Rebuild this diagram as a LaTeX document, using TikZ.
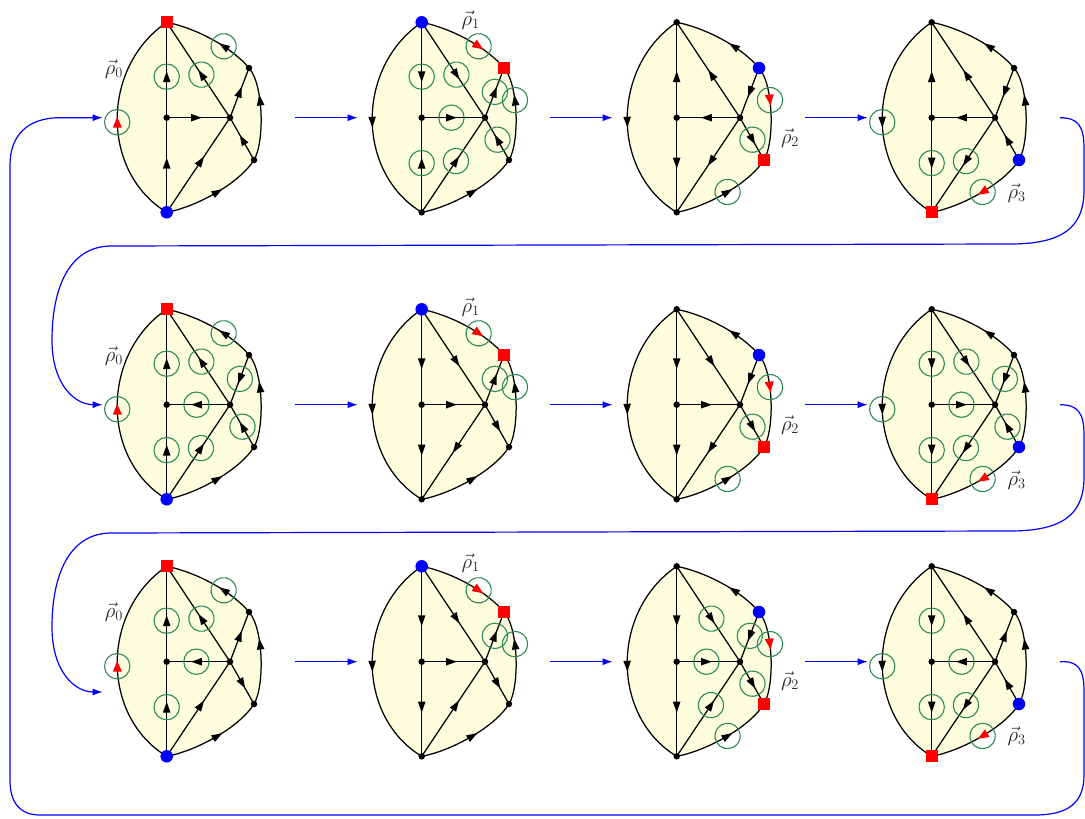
\documentclass[tikz,border=0pt]{standalone}
\usetikzlibrary{decorations.markings,arrows.meta}
\definecolor{fillY}{RGB}{253,253,222}
\definecolor{cgreen}{RGB}{46,139,87}
\definecolor{cblue}{RGB}{0,0,255}
\definecolor{cred}{RGB}{255,0,0}
\newcommand\tipF{\fill[black] (5.4pt,0pt) -- (-5.4pt,3.8pt) -- (-5.4pt,-3.8pt) -- cycle;}
\newcommand\tipB{\fill[black] (-5.4pt,0pt) -- (5.4pt,3.8pt) -- (5.4pt,-3.8pt) -- cycle;}
\newcommand\tipRF{\fill[cred] (5.4pt,0pt) -- (-5.4pt,4.5pt) -- (-5.4pt,-4.5pt) -- cycle;}
\newcommand\tipRB{\fill[cred] (-5.4pt,0pt) -- (5.4pt,4.5pt) -- (5.4pt,-4.5pt) -- cycle;}
\newcommand\ring{\draw[cgreen,line width=1.1pt] (0pt,0pt) circle (12.7pt);}
\newcommand\EA[6]{\tikzset{eL/.style={#1},eTC/.style={#2},eCB/.style={#3},eCM/.style={#4},eTM/.style={#5},eMB/.style={#6}}}
\newcommand\EB[5]{\tikzset{eMR/.style={#1},eMS/.style={#2},eTR/.style={#3},eRS/.style={#4},eSB/.style={#5}}}
\newcommand\panel[7]{%
\begin{scope}[shift={(#2,#3)}]
\coordinate (#1T) at (0,0);
\coordinate (#1C) at (0,95.4);
\coordinate (#1B) at (0,190);
\coordinate (#1M) at (63.3,95.4);
\coordinate (#1R) at (82.3,45.7);
\coordinate (#1S) at (87.3,137.7);
\coordinate (#1in) at (-64,95.4);
\coordinate (#1out) at (128.3,95.4);
\fill[fillY] (#1T) .. controls (30,6) and (65,25) .. (#1R) .. controls (97,62) and (98,120) .. (#1S) .. controls (72,162) and (28,185) .. (#1B) .. controls (-66,150) and (-66,45) .. (#1T) -- cycle;
\def\mpos{0.52}\draw[edge,eL] (#1T) .. controls (-66,45) and (-66,150) .. (#1B);
\def\mpos{0.57}\draw[edge,eTC] (#1T) -- (#1C);
\def\mpos{0.48}\draw[edge,eCB] (#1C) -- (#1B);
\def\mpos{0.47}\draw[edge,eCM] (#1C) -- (#1M);
\def\mpos{0.55}\draw[edge,eTM] (#1T) -- (#1M);
\def\mpos{0.46}\draw[edge,eMB] (#1M) -- (#1B);
\def\mpos{0.52}\draw[edge,eMR] (#1M) -- (#1R);
\def\mpos{0.52}\draw[edge,eMS] (#1M) -- (#1S);
\def\mpos{0.65}\draw[edge,eTR] (#1T) .. controls (30,6) and (65,25) .. (#1R);
\def\mpos{0.36}\draw[edge,eRS] (#1R) .. controls (97,62) and (98,120) .. (#1S);
\def\mpos{0.47}\draw[edge,eSB] (#1S) .. controls (72,162) and (28,185) .. (#1B);
\node[#4] (#1nT) at (#1T) {};
\node[vdot] (#1nC) at (#1C) {};
\node[vdot] (#1nM) at (#1M) {};
\node[#5] (#1nR) at (#1R) {};
\node[#6] (#1nS) at (#1S) {};
\node[#7] (#1nB) at (#1B) {};
\end{scope}}
\begin{document}
\begin{tikzpicture}[x=1pt,y=-1pt,
  edge/.style={line width=1.25pt,black},
  mF/.style={postaction={decorate,decoration={markings,mark=at position \mpos with {\tipF}}}},
  mB/.style={postaction={decorate,decoration={markings,mark=at position \mpos with {\tipB}}}},
  mFc/.style={postaction={decorate,decoration={markings,mark=at position \mpos with {\tipF\ring}}}},
  mBc/.style={postaction={decorate,decoration={markings,mark=at position \mpos with {\tipB\ring}}}},
  mRF/.style={postaction={decorate,decoration={markings,mark=at position \mpos with {\tipRF\ring}}}},
  mRB/.style={postaction={decorate,decoration={markings,mark=at position \mpos with {\tipRB\ring}}}},
  vdot/.style={circle,fill=black,inner sep=0pt,minimum size=6.5pt},
  vsq/.style={rectangle,fill=cred,inner sep=0pt,minimum size=12pt},
  vbl/.style={circle,fill=cblue,inner sep=0pt,minimum size=12.5pt},
  lbl/.style={text=black!85,font=\fontsize{20}{24}\selectfont,inner sep=0pt},
  flow/.style={draw=cblue,line width=1.2pt,-{Latex[length=10pt,width=7pt]}}]
\useasboundingbox (0,0) rectangle (1085,819);
% row 1
\EA{mRB}{mBc}{mB}{mF}{mBc}{mB}\EB{mF}{mB}{mBc}{mB}{mB}
\panel{a}{166.7}{22.3}{vsq}{vdot}{vdot}{vbl}
\EA{mF}{mFc}{mBc}{mFc}{mFc}{mBc}\EB{mFc}{mBc}{mRF}{mBc}{mB}
\panel{b}{421.7}{22.3}{vbl}{vsq}{vdot}{vdot}
\EA{mF}{mB}{mF}{mB}{mB}{mF}\EB{mB}{mFc}{mB}{mRF}{mBc}
\panel{c}{676.7}{22.3}{vdot}{vbl}{vsq}{vdot}
\EA{mFc}{mB}{mFc}{mB}{mB}{mFc}\EB{mB}{mB}{mB}{mB}{mRF}
\panel{d}{931.7}{22.3}{vdot}{vdot}{vbl}{vsq}
% row 2
\EA{mRB}{mBc}{mBc}{mBc}{mBc}{mBc}\EB{mBc}{mBc}{mBc}{mB}{mB}
\panel{e}{166.7}{309.3}{vsq}{vdot}{vdot}{vbl}
\EA{mF}{mF}{mF}{mF}{mF}{mF}\EB{mFc}{mF}{mRF}{mBc}{mB}
\panel{f}{421.7}{309.3}{vbl}{vsq}{vdot}{vdot}
\EA{mF}{mF}{mF}{mF}{mF}{mF}\EB{mB}{mFc}{mB}{mRF}{mBc}
\panel{g}{676.7}{309.3}{vdot}{vbl}{vsq}{vdot}
\EA{mFc}{mFc}{mFc}{mFc}{mFc}{mFc}\EB{mBc}{mBc}{mB}{mB}{mRF}
\panel{h}{931.7}{309.3}{vdot}{vdot}{vbl}{vsq}
% row 3
\EA{mRB}{mBc}{mBc}{mBc}{mBc}{mB}\EB{mF}{mF}{mBc}{mB}{mB}
\panel{i}{166.7}{566.3}{vsq}{vdot}{vdot}{vbl}
\EA{mF}{mF}{mF}{mF}{mF}{mB}\EB{mFc}{mF}{mRF}{mBc}{mB}
\panel{j}{421.7}{566.3}{vbl}{vsq}{vdot}{vdot}
\EA{mF}{mF}{mF}{mFc}{mFc}{mBc}\EB{mBc}{mFc}{mB}{mRF}{mBc}
\panel{k}{676.7}{566.3}{vdot}{vbl}{vsq}{vdot}
\EA{mFc}{mFc}{mFc}{mBc}{mB}{mFc}\EB{mF}{mB}{mB}{mB}{mRF}
\panel{l}{931.7}{566.3}{vdot}{vdot}{vbl}{vsq}
% labels
\node[lbl] (la) at (114,69) {$\vec{\rho}_0$};
\node[lbl] (le) at (114,356) {$\vec{\rho}_0$};
\node[lbl] (li) at (114,612) {$\vec{\rho}_0$};
\node[lbl] (lb) at (470.7,20) {$\vec{\rho}_1$};
\node[lbl] (lf) at (470.7,307) {$\vec{\rho}_1$};
\node[lbl] (lj) at (470.7,563) {$\vec{\rho}_1$};
\node[lbl] (lc) at (790,138) {$\vec{\rho}_2$};
\node[lbl] (lg) at (790,425) {$\vec{\rho}_2$};
\node[lbl] (lk) at (790,681) {$\vec{\rho}_2$};
\node[lbl] (ld) at (1016.7,192.7) {$\vec{\rho}_3$};
\node[lbl] (lh) at (1016.7,479.7) {$\vec{\rho}_3$};
\node[lbl] (ll) at (1016.7,735.7) {$\vec{\rho}_3$};
% flow arrows
\draw[flow] (aout) -- (bin);
\draw[flow] (bout) -- (cin);
\draw[flow] (cout) -- (din);
\draw[flow] (eout) -- (fin);
\draw[flow] (fout) -- (gin);
\draw[flow] (gout) -- (hin);
\draw[flow] (iout) -- (jin);
\draw[flow] (jout) -- (kin);
\draw[flow] (kout) -- (lin);
\coordinate (ilow) at (102.7,692);
\draw[flow] (dout) .. controls (1078,117.7) and (1084,126) .. (1084,148) -- (1084,190) .. controls (1084,228) and (1062,244) .. (1010,244) -- (110,246) .. controls (68,247) and (52,290) .. (52,340) .. controls (52,385) and (75,404.7) .. (ein);
\draw[flow] (hout) .. controls (1078,404.7) and (1084,413) .. (1084,435) -- (1084,477) .. controls (1084,515) and (1062,531) .. (1010,531) -- (110,533) .. controls (68,534) and (52,577) .. (52,627) .. controls (52,672) and (75,692) .. (ilow);
\draw[flow] (lout) .. controls (1078,660.7) and (1084,669) .. (1084,691) -- (1084,775) .. controls (1084,803) and (1068,815) .. (1035,815) -- (40,815) .. controls (20,815) and (10,803) .. (10,780) -- (10,165) .. controls (10,135) and (28,117.7) .. (60,117.7) -- (ain);
\end{tikzpicture}
\end{document}
